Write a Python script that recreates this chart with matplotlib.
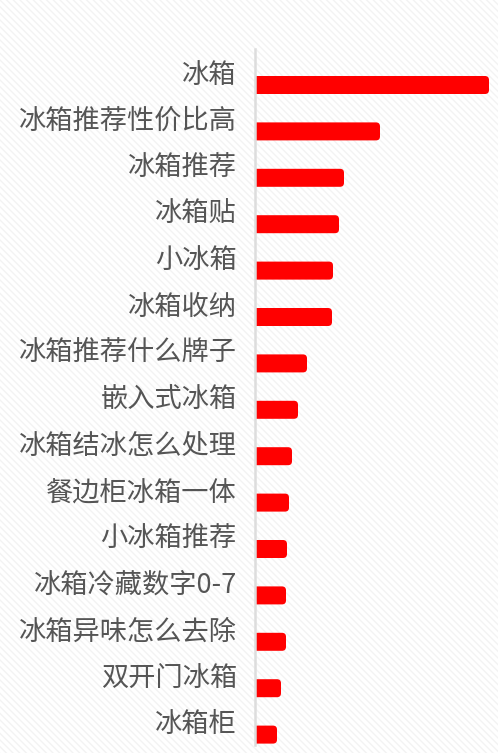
import matplotlib
matplotlib.use("Agg")
import matplotlib.pyplot as plt
from matplotlib.patches import FancyBboxPatch, Rectangle

categories = ["冰箱", "冰箱推荐性价比高", "冰箱推荐", "冰箱贴", "小冰箱", "冰箱收纳",
              "冰箱推荐什么牌子", "嵌入式冰箱", "冰箱结冰怎么处理", "餐边柜冰箱一体",
              "小冰箱推荐", "冰箱冷藏数字0-7", "冰箱异味怎么去除", "双开门冰箱", "冰箱柜"]
values = [233, 124, 88, 83, 77, 76, 51, 42, 36, 33, 31, 30, 30, 25, 21]

plt.rcParams['font.family'] = ['Noto Sans CJK SC', 'DejaVu Sans']
plt.rcParams['hatch.linewidth'] = 1.0

W, H = 498, 753
fig = plt.figure(figsize=(W / 100, H / 100), dpi=100)
fig.patch.set_facecolor('white')
bg = Rectangle((0, 0), 1, 1, transform=fig.transFigure, facecolor='white',
               edgecolor='#f3f3f3', hatch='\\\\\\\\\\', linewidth=0, zorder=-10)
fig.patches.append(bg)

ax_left, ax_right = 256, 498
ax_top, ax_bottom = 49, 745
ax = fig.add_axes([ax_left / W, 1 - ax_bottom / H, (ax_right - ax_left) / W, (ax_bottom - ax_top) / H])
ax.patch.set_alpha(0)

n = len(categories)
ax.set_xlim(0, ax_right - ax_left)
ax.set_ylim(n - 0.5, -0.5)

band_px = (ax_bottom - ax_top) / n
bar_h = 18 / band_px
offset = 12.8 / band_px
radius = 4

for i, v in enumerate(values):
    p = FancyBboxPatch((-10, i + offset - bar_h / 2), v + 10, bar_h,
                       boxstyle=f"round,pad=0,rounding_size={radius}",
                       mutation_aspect=1 / band_px,
                       facecolor='#ff0000', edgecolor='none', zorder=2)
    ax.add_patch(p)

ax.set_yticks(range(n))
ax.set_yticklabels(categories)
ax.tick_params(axis='y', length=0, pad=13.3, labelsize=19.6, labelcolor='#555555')
ax.set_xticks([])
for s in ['top', 'right', 'bottom']:
    ax.spines[s].set_visible(False)
ax.spines['left'].set_color('#dddddd')
ax.spines['left'].set_linewidth(1.8)
ax.spines['left'].set_zorder(3)
ax.spines['left'].set_position(('outward', 0.5))

fig.savefig('out.png', dpi=100)
